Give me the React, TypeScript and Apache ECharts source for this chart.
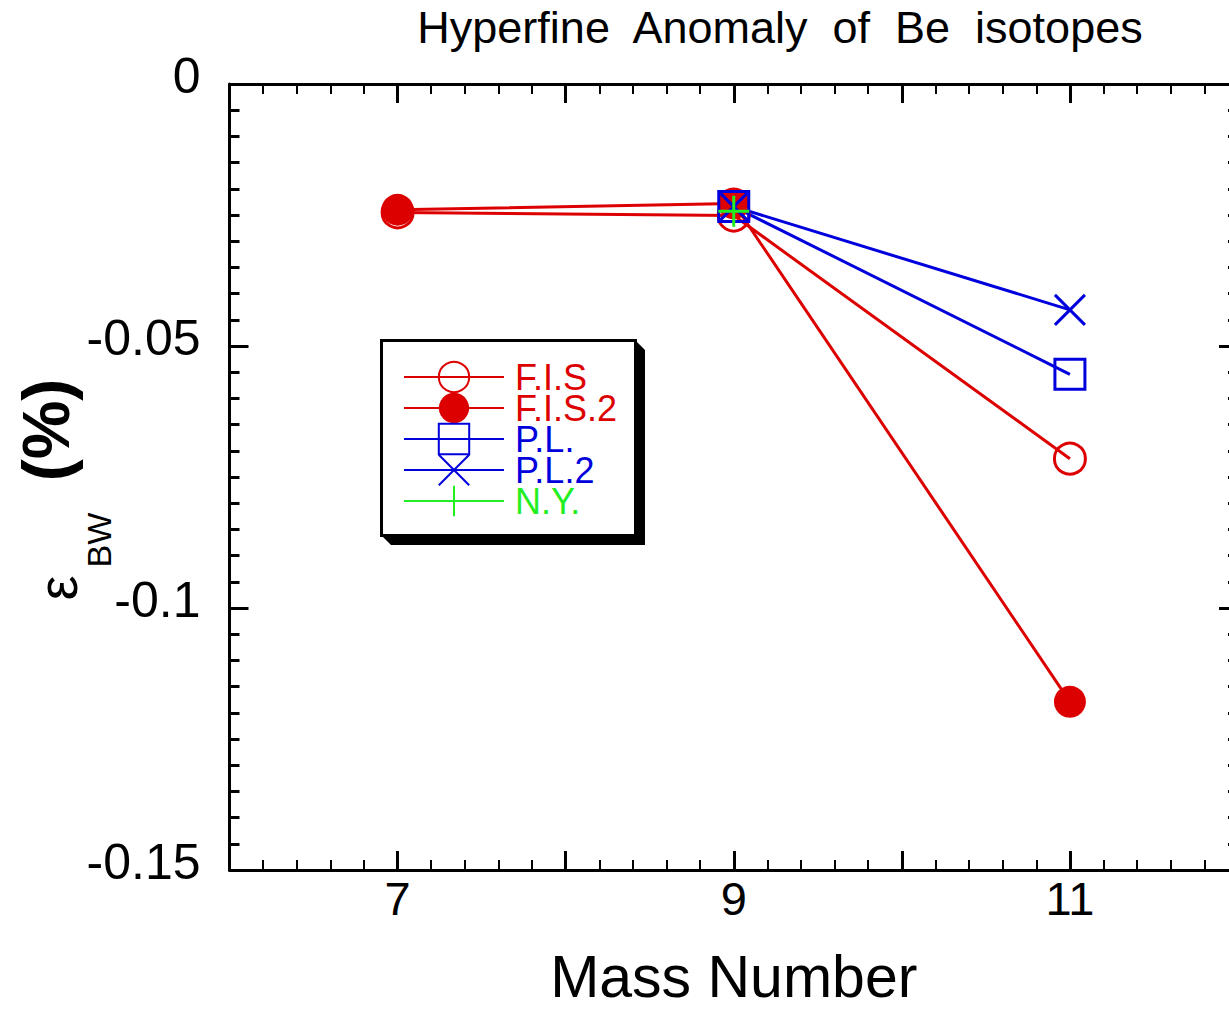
import React, { useEffect, useRef } from "react";
import * as echarts from "echarts";

// ---- data ----
const seriesNames = ["F.I.S", "F.I.S.2", "P.L.", "P.L.2", "N.Y."];
const fisData: [number, number][] = [[7, -0.0245], [9, -0.0251], [11, -0.0715]];
const fis2Data: [number, number][] = [[7, -0.024], [9, -0.0228], [11, -0.1179]];
const plData: [number, number][] = [[9, -0.0234], [11, -0.0554]];
const pl2Data: [number, number][] = [[9, -0.0234], [11, -0.0431]];
const nyData: [number, number][] = [[9, -0.0243]];
const xLabelValues = [7, 9, 11];
const yTickLabels: Record<string, string> = { "0": "0", "-0.05": "-0.05", "-0.1": "-0.1", "-0.15": "-0.15" };

const RED = "#dd0000";
const BLUE = "#0000dd";
const GREEN = "#22ee22";
const FONT = "'Liberation Sans', Helvetica, Arial, sans-serif";

const CROSS = "path://M0,0L10,10M10,0L0,10";
const PLUS = "path://M5,0L5,10M0,5L10,5";

export default function App() {
  const ref = useRef<HTMLDivElement>(null);
  useEffect(() => {
    if (!ref.current) return;
    const chart = echarts.init(ref.current, null, { renderer: "svg" });

    const axisCommon = {
      axisLine: { show: true, onZero: false, lineStyle: { color: "#000", width: 3 } },
      splitLine: { show: false },
    };

    const xBase = {
      type: "value" as const,
      min: 6,
      max: 12,
      interval: 1,
      ...axisCommon,
      axisTick: { show: true, inside: true, length: 19, lineStyle: { color: "#000", width: 3 } },
      minorTick: { show: true, splitNumber: 5, length: 10, lineStyle: { color: "#000", width: 2 } },
    };
    const yBase = {
      type: "value" as const,
      min: -0.15,
      max: 0,
      interval: 0.05,
      ...axisCommon,
      axisTick: { show: true, inside: true, length: 19, lineStyle: { color: "#000", width: 3 } },
      minorTick: { show: true, splitNumber: 10, length: 10, lineStyle: { color: "#000", width: 3 } },
    };

    const mk = (
      name: string,
      data: [number, number][],
      color: string,
      symbol: string,
      size: number,
      filled: boolean
    ) => ({
      name,
      type: "line",
      data,
      symbol,
      symbolSize: size,
      showSymbol: true,
      lineStyle: { color, width: 3 },
      itemStyle: filled
        ? { color, borderColor: color, borderWidth: 0 }
        : { color: "rgba(0,0,0,0)", borderColor: color, borderWidth: 3 },
      emphasis: { disabled: true },
    });

    const legendColors = [RED, RED, BLUE, BLUE, GREEN];

    chart.setOption({
      animation: false,
      backgroundColor: "#fff",
      title: {
        text: "Hyperfine  Anomaly  of  Be  isotopes",
        left: 780,
        top: 5,
        textAlign: "center",
        padding: 0,
        textStyle: { fontFamily: FONT, fontSize: 45, fontWeight: "normal", color: "#000" },
      },
      grid: { left: 229.5, width: 1011, top: 84, height: 795, containLabel: false },
      xAxis: [
        {
          ...xBase,
          position: "bottom",
          name: "Mass Number",
          nameLocation: "middle",
          nameGap: 77,
          nameTextStyle: { fontFamily: FONT, fontSize: 59, color: "#000" },
          axisLabel: {
            show: true,
            margin: 5,
            fontFamily: FONT,
            fontSize: 47,
            color: "#000",
            formatter: (v: number) => (xLabelValues.includes(v) ? String(v) : ""),
          },
        },
        { ...xBase, position: "top", axisLabel: { show: false } },
      ],
      yAxis: [
        {
          ...yBase,
          position: "left",
          axisLabel: {
            show: true,
            margin: 29,
            fontFamily: FONT,
            fontSize: 50,
            color: "#000",
            verticalAlign: "bottom",
            lineHeight: 16,
            formatter: (v: number) => {
              const k = String(Math.round(v * 100) / 100);
              return yTickLabels[k] ?? "";
            },
          },
        },
        { ...yBase, position: "right", axisLabel: { show: false } },
      ],
      legend: {
        orient: "vertical",
        left: 403,
        top: 359,
        padding: 0,
        itemWidth: 100,
        itemHeight: 38,
        itemGap: -5,
        selectedMode: false,
        textStyle: { fontFamily: FONT, fontSize: 36, lineHeight: 30, padding: [0, 0, 0, 6] },
        data: seriesNames.map((n, i) => ({ name: n, textStyle: { color: legendColors[i] } })),
      },
      graphic: [
        {
          type: "polygon",
          z: 0,
          shape: { points: [[635, 340], [645, 350], [645, 545], [391, 545], [381, 535]] },
          style: { fill: "#000" },
        },
        {
          type: "rect",
          z: 1,
          shape: { x: 381.5, y: 340.5, width: 254, height: 195 },
          style: { fill: "#fff", stroke: "#000", lineWidth: 3 },
        },
        {
          type: "text",
          x: 57,
          y: 588,
          rotation: Math.PI / 2,
          style: { text: "ε", font: `56px ${FONT}`, fill: "#000", align: "center", verticalAlign: "middle" },
        },
        {
          type: "text",
          x: 99,
          y: 540,
          rotation: Math.PI / 2,
          style: { text: "BW", font: `34px ${FONT}`, fill: "#000", align: "center", verticalAlign: "middle" },
        },
        {
          type: "text",
          x: 46,
          y: 430,
          rotation: Math.PI / 2,
          style: { text: "(%)", font: `bold 66px ${FONT}`, fill: "#000", align: "center", verticalAlign: "middle" },
        },
      ],
      series: [
        mk(seriesNames[0], fisData, RED, "circle", 31, false),
        mk(seriesNames[1], fis2Data, RED, "circle", 32, true),
        mk(seriesNames[2], plData, BLUE, "rect", 30, false),
        mk(seriesNames[3], pl2Data, BLUE, CROSS, 30, false),
        mk(seriesNames[4], nyData, GREEN, PLUS, 31, false),
      ],
    });
    return () => chart.dispose();
  }, []);
  return (
    <div
      style={{
        position: "fixed",
        left: 0,
        top: 0,
        width: 1229,
        height: 1011,
        overflow: "hidden",
        background: "#fff",
      }}
    >
      <div ref={ref} style={{ width: 1241, height: 1011 }} />
    </div>
  );
}
